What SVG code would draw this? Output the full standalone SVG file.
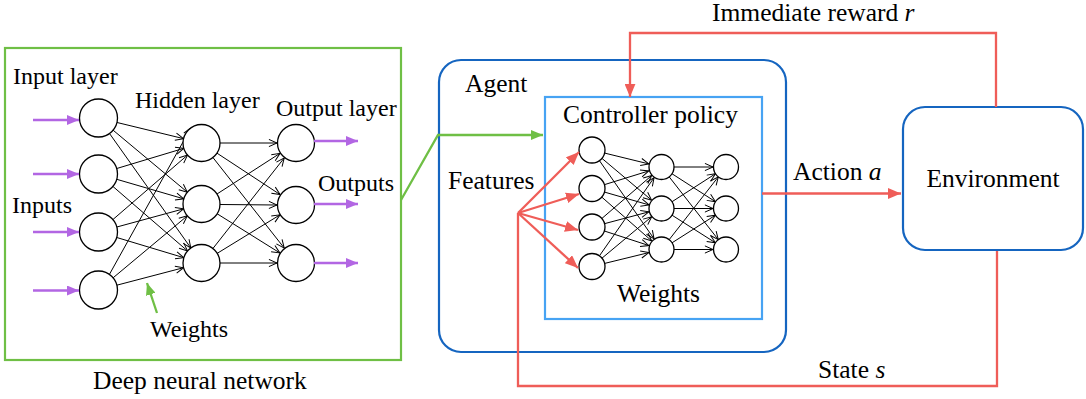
<svg xmlns="http://www.w3.org/2000/svg" width="1086" height="399" viewBox="0 0 1086 399" font-family="'Liberation Serif', 'DejaVu Serif', serif">
<defs>
<style>
.t{font-size:24px;font-family:'Liberation Serif',serif;}
.T{font-size:25.5px;font-family:'Liberation Serif',serif;}
.n{fill:#fff;stroke:#000;stroke-width:1.3;}
.w{stroke:#000;stroke-width:1;fill:none;marker-end:url(#open);}
.red{stroke:#ef5d58;stroke-width:2.3;fill:none;}
.pur{stroke:#b266e3;stroke-width:2.5;fill:none;marker-end:url(#ap);}
</style>
<marker id="open" viewBox="0 0 10 10" refX="10" refY="5" markerWidth="9" markerHeight="9" markerUnits="userSpaceOnUse" orient="auto"><path d="M1,1 L10,5 L1,9" fill="none" stroke="#000" stroke-width="1.1"/></marker>
<marker id="ar" viewBox="0 0 12 10" refX="12" refY="5" markerWidth="13" markerHeight="11" markerUnits="userSpaceOnUse" orient="auto"><path d="M0,0 L12,5 L0,10 z" fill="#ef5d58"/></marker>
<marker id="ap" viewBox="0 0 12 10" refX="12" refY="5" markerWidth="12" markerHeight="10" markerUnits="userSpaceOnUse" orient="auto"><path d="M0,0 L12,5 L0,10 z" fill="#b266e3"/></marker>
<marker id="ag" viewBox="0 0 12 10" refX="12" refY="5" markerWidth="12" markerHeight="10" markerUnits="userSpaceOnUse" orient="auto"><path d="M0,0 L12,5 L0,10 z" fill="#6fbf45"/></marker>
</defs>
<rect width="1086" height="399" fill="#fff"/>

<g id="dnn">
<rect x="5" y="48" width="396" height="312" fill="none" stroke="#6fbf45" stroke-width="2.2"/>
<text class="t" x="13" y="84" font-family="Liberation Serif">Input layer</text>
<text class="t" x="135" y="108">Hidden layer</text>
<text class="t" x="276" y="116">Output layer</text>
<text class="t" x="318" y="191">Outputs</text>
<text class="t" x="12" y="213">Inputs</text>
<text class="t" x="150" y="337">Weights</text>
<text class="T" x="93" y="389">Deep neural network</text>
<g id="dnn-weights">
<path class="w" d="M116.96,122.48 L183.52,138.64"/>
<path class="w" d="M113.08,130.18 L187.3,192.14"/>
<path class="w" d="M109.5,133.49 L190.79,247.92"/>
<path class="w" d="M116.69,168.53 L183.79,148.33"/>
<path class="w" d="M116.74,179.31 L183.74,198.83"/>
<path class="w" d="M112.88,186.42 L187.5,250.9"/>
<path class="w" d="M112.88,219.58 L187.5,155.1"/>
<path class="w" d="M116.84,227.01 L183.64,208.85"/>
<path class="w" d="M116.69,237.47 L183.79,257.67"/>
<path class="w" d="M109.4,274.44 L190.88,127.85"/>
<path class="w" d="M113.08,277.82 L187.3,215.86"/>
<path class="w" d="M116.87,285.18 L183.6,267.69"/>
<path class="w" d="M220,143 L277,143"/>
<path class="w" d="M216.97,153.15 L280.11,194.57"/>
<path class="w" d="M212.95,157.54 L284.24,248.07"/>
<path class="w" d="M217.04,193.97 L280.04,153.3"/>
<path class="w" d="M220,204.5 L277,205"/>
<path class="w" d="M217.19,213.8 L279.88,252.94"/>
<path class="w" d="M212.95,248.46 L284.24,157.93"/>
<path class="w" d="M217.26,253.32 L280.03,214.8"/>
<path class="w" d="M220,263 L277,263"/>
</g>
<g id="dnn-nodes">
<circle class="n" cx="98.5" cy="118" r="19"/>
<circle class="n" cx="98.5" cy="174" r="19"/>
<circle class="n" cx="98.5" cy="232" r="19"/>
<circle class="n" cx="98.5" cy="290" r="19"/>
<circle class="n" cx="201.5" cy="143" r="18.5"/>
<circle class="n" cx="201.5" cy="204" r="18.5"/>
<circle class="n" cx="201.5" cy="263" r="18.5"/>
<circle class="n" cx="296" cy="143" r="18.5"/>
<circle class="n" cx="296" cy="205" r="18.5"/>
<circle class="n" cx="296" cy="263" r="18.5"/>
</g>
<g id="dnn-io">
<path class="pur" d="M33,120 H79"/>
<path class="pur" d="M33,174 H79"/>
<path class="pur" d="M33,232 H79"/>
<path class="pur" d="M33,290.5 H79"/>
<path class="pur" d="M314,141 H358"/>
<path class="pur" d="M314,204 H358"/>
<path class="pur" d="M314,263 H358"/>
<path d="M157,313 L147,283" stroke="#6fbf45" stroke-width="2.3" fill="none" marker-end="url(#ag)"/>
</g>
</g>

<g id="agent">
<rect x="439" y="60" width="347" height="292" rx="22" fill="none" stroke="#1565c0" stroke-width="2.2"/>
<text class="T" x="465" y="92">Agent</text>
<text class="T" x="448" y="189">Features</text>
</g>

<g id="controller">
<rect x="545" y="97" width="217" height="222" fill="none" stroke="#47a3f3" stroke-width="2.2"/>
<text class="T" x="563" y="123">Controller policy</text>
<text class="T" x="617" y="302">Weights</text>
<g id="ctrl-weights">
<path class="w" d="M604.63,153.09 L648.87,163.91"/>
<path class="w" d="M601.95,158.37 L651.56,200.13"/>
<path class="w" d="M599.44,160.66 L654.06,238.84"/>
<path class="w" d="M604.42,184.66 L648.8,170.93"/>
<path class="w" d="M604.49,192.09 L649.09,204.93"/>
<path class="w" d="M601.77,197.08 L651.73,240.92"/>
<path class="w" d="M601.84,218.5 L651.66,175.5"/>
<path class="w" d="M604.56,223.66 L648.94,211.84"/>
<path class="w" d="M604.37,231 L648.82,245.5"/>
<path class="w" d="M599.44,255.84 L654.06,177.66"/>
<path class="w" d="M601.98,258.17 L651.67,216.7"/>
<path class="w" d="M604.63,263.41 L648.87,252.59"/>
<path class="w" d="M674,167 L713,167"/>
<path class="w" d="M672.01,173.76 L715.49,201.74"/>
<path class="w" d="M669.2,176.85 L718.3,239.65"/>
<path class="w" d="M672.01,201.74 L715.49,173.76"/>
<path class="w" d="M674,208.5 L713,208.5"/>
<path class="w" d="M672.05,215.21 L715.45,242.79"/>
<path class="w" d="M669.2,239.65 L718.3,176.85"/>
<path class="w" d="M672.05,242.79 L715.45,215.21"/>
<path class="w" d="M674,249.5 L713,249.5"/>
</g>
<g id="ctrl-nodes">
<circle class="n" cx="592" cy="150" r="13"/>
<circle class="n" cx="592" cy="188.5" r="13"/>
<circle class="n" cx="592" cy="227" r="13"/>
<circle class="n" cx="592" cy="266.5" r="13"/>
<circle class="n" cx="661.5" cy="167" r="12.5"/>
<circle class="n" cx="661.5" cy="208.5" r="12.5"/>
<circle class="n" cx="661.5" cy="249.5" r="12.5"/>
<circle class="n" cx="726" cy="167" r="12.5"/>
<circle class="n" cx="726" cy="208.5" r="12.5"/>
<circle class="n" cx="726" cy="249.5" r="12.5"/>
</g>
</g>

<g id="environment">
<rect x="903" y="107" width="180" height="143" rx="22" fill="#fff" stroke="#1565c0" stroke-width="2.2"/>
<text class="T" x="993" y="187" text-anchor="middle">Environment</text>
</g>

<g id="connectors">
<path d="M401,200 L438,135 H543" stroke="#6fbf45" stroke-width="2.3" fill="none" marker-end="url(#ag)"/>
<path class="red" d="M996,107 V33 H630 V97" marker-end="url(#ar)"/>
<path class="red" d="M762,193.5 H901" marker-end="url(#ar)"/>
<path class="red" d="M997,251 V386 H518 V213"/>
<path class="red" d="M518,213 L579,152" marker-end="url(#ar)"/>
<path class="red" d="M518,213 L579,194" marker-end="url(#ar)"/>
<path class="red" d="M518,213 L578,230" marker-end="url(#ar)"/>
<path class="red" d="M518,213 L578,268" marker-end="url(#ar)"/>
</g>

<g id="labels">
<text class="T" x="712" y="21">Immediate reward <tspan font-style="italic">r</tspan></text>
<text class="T" x="793" y="180">Action <tspan font-style="italic">a</tspan></text>
<text class="T" x="818" y="378">State <tspan font-style="italic">s</tspan></text>
</g>
</svg>
